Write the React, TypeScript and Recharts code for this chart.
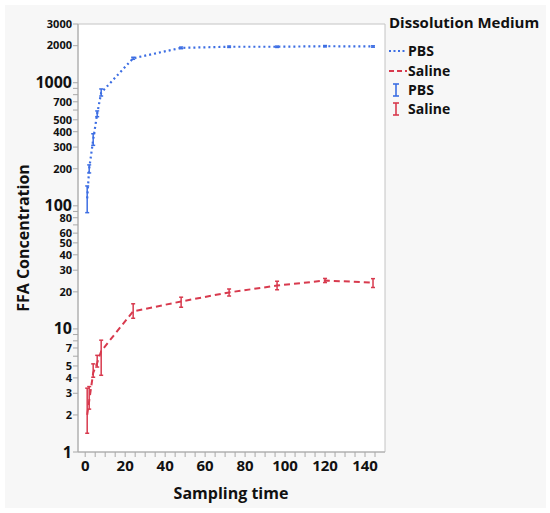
import React from "react";
import {
  ComposedChart,
  Line,
  ErrorBar,
  XAxis,
  YAxis,
  ReferenceArea,
} from "recharts";

// Sampling times (h)
const times = [1, 2, 4, 6, 8, 24, 48, 72, 96, 120, 144];

// PBS: mean with lower / upper error bar ends
const pbsMean = [115, 200, 345, 560, 830, 1580, 1920, 1960, 1960, 1980, 1970];
const pbsLow = [88, 185, 310, 530, 780, 1550, 1890, 1935, 1935, 1955, 1945];
const pbsHigh = [145, 215, 385, 590, 890, 1610, 1950, 1985, 1985, 2005, 1995];

// Saline
const salineMean = [2.0, 2.6, 4.4, 5.3, 6.6, 13.9, 16.7, 19.8, 22.5, 24.7, 23.8];
const salineLow = [1.42, 2.23, 4.05, 4.9, 4.2, 12.2, 15.0, 18.5, 20.8, 23.8, 21.7];
const salineHigh = [3.3, 3.4, 5.2, 6.1, 8.1, 16.0, 18.1, 21.1, 24.4, 25.7, 25.6];

const xTicks = Array.from({ length: 30 }, (_, i) => i * 5);
const xLabels = [0, 20, 40, 60, 80, 100, 120, 140];

const yTicks = [
  1, 2, 3, 4, 5, 6, 7, 8, 9, 10, 20, 30, 40, 50, 60, 70, 80, 90, 100, 200, 300,
  400, 500, 600, 700, 800, 900, 1000, 2000, 3000,
];
const yLabels = [1, 2, 3, 4, 5, 7, 10, 20, 30, 40, 50, 60, 80, 100, 200, 300, 400, 500, 700, 1000, 2000, 3000];
const yBigLabels = [1, 10, 100, 1000];

const PBS_COLOR = "#3d6ee3";
const SALINE_COLOR = "#d83a4e";
const FONT = "'Open Sans', 'Noto Sans', sans-serif";
const AXIS_GRAY = "#a8a8a8";

const rows = times.map((t, i) => ({
  t,
  pbs: pbsMean[i],
  pbsErr: [pbsMean[i] - pbsLow[i], pbsHigh[i] - pbsMean[i]],
  saline: salineMean[i],
  salineErr: [salineMean[i] - salineLow[i], salineHigh[i] - salineMean[i]],
}));

function XTick(props: { x?: number; y?: number; payload?: { value: number } }) {
  const { x = 0, y = 0, payload } = props;
  if (!payload || !xLabels.includes(payload.value)) return <g />;
  return (
    <text x={x} y={y + 14} textAnchor="middle" fontFamily={FONT} fontWeight={700} fontSize={15} fill="#111">
      {payload.value}
    </text>
  );
}

function YTick(props: { x?: number; y?: number; payload?: { value: number } }) {
  const { x = 0, y = 0, payload } = props;
  if (!payload || !yLabels.includes(payload.value)) return <g />;
  const big = yBigLabels.includes(payload.value);
  return (
    <text
      x={x}
      y={y}
      dy={big ? 5.5 : 3.8}
      textAnchor="end"
      fontFamily={FONT}
      fontWeight={700}
      fontSize={big ? 16 : 11}
      fill="#111"
    >
      {payload.value}
    </text>
  );
}

function LegendBox() {
  const text = { fontFamily: FONT, fontWeight: 700, fontSize: 14, fill: "#111" } as const;
  return (
    <svg width={165} height={120} style={{ position: "absolute", left: 385, top: 0 }}>
      <text x={4} y={28} {...text} fontSize={15}>Dissolution Medium</text>
      <line x1={4} x2={22} y1={51} y2={51} stroke={PBS_COLOR} strokeWidth={2} strokeDasharray="2 2.5" />
      <text x={23} y={56} {...text}>PBS</text>
      <line x1={4} x2={22} y1={71} y2={71} stroke={SALINE_COLOR} strokeWidth={2} strokeDasharray="5 3" />
      <text x={23} y={76} {...text}>Saline</text>
      <g stroke={PBS_COLOR} strokeWidth={1.6}>
        <line x1={11} x2={11} y1={84} y2={96} />
        <line x1={8} x2={14} y1={84} y2={84} />
        <line x1={8} x2={14} y1={96} y2={96} />
      </g>
      <text x={23} y={95} {...text}>PBS</text>
      <g stroke={SALINE_COLOR} strokeWidth={1.6}>
        <line x1={11} x2={11} y1={103} y2={115} />
        <line x1={8} x2={14} y1={103} y2={103} />
        <line x1={8} x2={14} y1={115} y2={115} />
      </g>
      <text x={23} y={114} {...text}>Saline</text>
    </svg>
  );
}

export default function App() {
  return (
    <div style={{ position: "absolute", left: 0, top: 0, width: 550, height: 513, background: "#fff" }}>
      <div style={{ position: "absolute", left: 5, top: 5, width: 541, height: 503, background: "#f7f7f7" }} />
      <div style={{ position: "absolute", left: 0, top: 0 }}>
        <ComposedChart
          width={550}
          height={513}
          data={rows}
          margin={{ top: 24, right: 165, bottom: 21, left: 18 }}
        >
          <XAxis
            dataKey="t"
            type="number"
            domain={[-3.6, 150]}
            ticks={xTicks}
            interval={0}
            allowDataOverflow
            height={40}
            tickSize={5}
            tickMargin={0}
            tick={<XTick />}
            stroke={AXIS_GRAY}
            tickLine={{ stroke: AXIS_GRAY }}
            axisLine={{ stroke: AXIS_GRAY }}
            label={{
              content: () => (
                <text x={231} y={499} textAnchor="middle" fontFamily={FONT} fontWeight={700} fontSize={16} fill="#111">
                  Sampling time
                </text>
              ),
            }}
          />
          <YAxis
            scale="log"
            type="number"
            domain={[1, 3000]}
            ticks={yTicks}
            interval={0}
            allowDataOverflow
            width={60}
            tickSize={5}
            tickMargin={1}
            tick={<YTick />}
            tickLine={{ stroke: AXIS_GRAY }}
            axisLine={{ stroke: AXIS_GRAY }}
            label={{
              content: () => (
                <text
                  x={23}
                  y={238}
                  transform="rotate(-90 23 238)"
                  textAnchor="middle"
                  dominantBaseline="central"
                  fontFamily={FONT}
                  fontWeight={700}
                  fontSize={16}
                  fill="#111"
                >
                  FFA Concentration
                </text>
              ),
            }}
          />
          <ReferenceArea x1={-3.6} x2={150} y1={1} y2={3000} fill="#ffffff" fillOpacity={1} stroke="#c4c4c4" ifOverflow="visible" />
          <Line
            dataKey="pbs"
            type="linear"
            stroke={PBS_COLOR}
            strokeWidth={2.2}
            strokeDasharray="2 3"
            dot={false}
            activeDot={false}
            isAnimationActive={false}
          >
            <ErrorBar dataKey="pbsErr" direction="y" width={2} stroke={PBS_COLOR} strokeWidth={1.5} isAnimationActive={false} />
          </Line>
          <Line
            dataKey="saline"
            type="linear"
            stroke={SALINE_COLOR}
            strokeWidth={2}
            strokeDasharray="6 4"
            dot={false}
            activeDot={false}
            isAnimationActive={false}
          >
            <ErrorBar dataKey="salineErr" direction="y" width={2} stroke={SALINE_COLOR} strokeWidth={1.5} isAnimationActive={false} />
          </Line>
        </ComposedChart>
      </div>
      <LegendBox />
    </div>
  );
}
